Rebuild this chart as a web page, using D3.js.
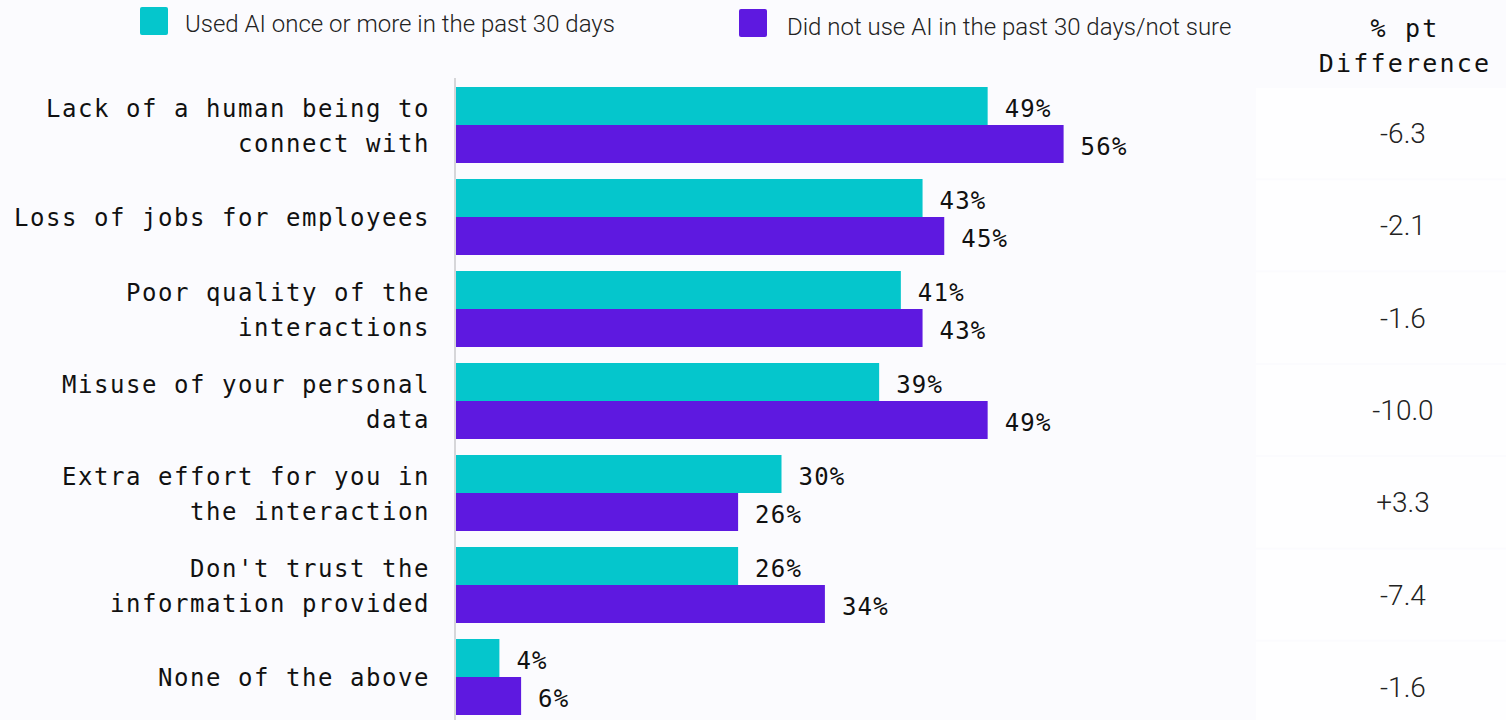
<!DOCTYPE html>
<html>
<head>
<meta charset="utf-8">
<script src="https://cdn.jsdelivr.net/npm/d3@7"></script>
<style>
  html, body { margin: 0; padding: 0; background: #fbfbfe; }
  svg { display: block; }
</style>
</head>
<body>
<svg id="chart" width="1506" height="720"></svg>
<script>
// Concerns about AI in customer interactions, by recent AI usage
const categories = [
  ["Lack of a human being to", "connect with"],
  ["Loss of jobs for employees"],
  ["Poor quality of the", "interactions"],
  ["Misuse of your personal", "data"],
  ["Extra effort for you in", "the interaction"],
  ["Don't trust the", "information provided"],
  ["None of the above"]
];
const usedAI = [49, 43, 41, 39, 30, 26, 4];
const notUsedAI = [56, 45, 43, 49, 26, 34, 6];
const ptDifference = ["-6.3", "-2.1", "-1.6", "-10.0", "+3.3", "-7.4", "-1.6"];
const seriesNames = ["Used AI once or more in the past 30 days", "Did not use AI in the past 30 days/not sure"];
const seriesColors = ["#05c6cc", "#5e19e0"];

const svg = d3.select("#chart");
const ids = d3.range(categories.length);
const monoFont = "'DejaVu Sans Mono', 'Liberation Mono', monospace";
const lightFont = "Roboto, 'Open Sans', sans-serif";

const x = d3.scaleLinear().domain([0, 100]).range([456, 1541]);
const y = d3.scaleBand().domain(ids).range([87, 715]).paddingInner(16 / 92).paddingOuter(0);
const ySub = d3.scaleBand().domain([0, 1]).range([0, y.bandwidth()]);
const yCell = d3.scaleBand().domain(ids).range([87, 733]);

// Difference column cells
svg.append("g").selectAll("rect")
  .data(ids).join("rect")
  .attr("x", 1256).attr("width", 250)
  .attr("y", d => yCell(d) + 1).attr("height", yCell.bandwidth() - 2)
  .attr("fill", "#fefeff");

// Baseline axis
svg.append("line")
  .attr("x1", 455).attr("x2", 455).attr("y1", 78).attr("y2", 720)
  .attr("stroke", "#d6d6d9").attr("stroke-width", 2);

// Bars and value labels
const series = [usedAI, notUsedAI];
series.forEach((vals, s) => {
  const g = svg.append("g");
  g.selectAll("rect").data(ids).join("rect")
    .attr("x", x(0))
    .attr("y", d => y(d) + ySub(s))
    .attr("width", d => x(vals[d]) - x(0))
    .attr("height", ySub.bandwidth())
    .attr("fill", seriesColors[s]);
  g.selectAll("text").data(ids).join("text")
    .attr("x", d => x(vals[d]) + 17)
    .attr("y", d => y(d) + ySub(s) + ySub.bandwidth() / 2 + 11)
    .attr("font-family", monoFont)
    .attr("font-size", 24)
    .attr("letter-spacing", 1.2)
    .attr("fill", "#111")
    .text(d => vals[d] + "%");
});

// Category labels
const labels = svg.append("g");
ids.forEach(i => {
  const lines = categories[i];
  const cy = y(i) + y.bandwidth() / 2;
  lines.forEach((line, k) => {
    labels.append("text")
      .attr("x", 430)
      .attr("y", cy + 9 + (k - (lines.length - 1) / 2) * 35)
      .attr("text-anchor", "end")
      .attr("font-family", monoFont)
      .attr("font-size", 24)
      .attr("letter-spacing", 1.55)
      .attr("fill", "#111")
      .text(line);
  });
});

// Difference column
const hdr = svg.append("g")
  .attr("font-family", monoFont).attr("font-size", 25)
  .attr("letter-spacing", 2.2).attr("fill", "#111").attr("text-anchor", "middle");
hdr.append("text").attr("x", 1405).attr("y", 37).text("% pt");
hdr.append("text").attr("x", 1405).attr("y", 72).text("Difference");

svg.append("g").selectAll("text")
  .data(ids).join("text")
  .attr("x", 1403)
  .attr("y", d => yCell(d) + yCell.bandwidth() / 2 + 10)
  .attr("text-anchor", "middle")
  .attr("font-family", lightFont)
  .attr("font-weight", 300)
  .attr("font-size", 28)
  .attr("fill", "#222")
  .text(d => ptDifference[d]);

// Legend
const legendPos = [{sx: 140, sy: 7, tx: 185, ty: 32}, {sx: 739, sy: 9, tx: 787, ty: 35}];
seriesNames.forEach((name, s) => {
  const p = legendPos[s];
  svg.append("rect")
    .attr("x", p.sx).attr("y", p.sy).attr("width", 28).attr("height", 28)
    .attr("rx", 2).attr("fill", seriesColors[s]);
  svg.append("text")
    .attr("x", p.tx).attr("y", p.ty)
    .attr("font-family", lightFont).attr("font-weight", 300)
    .attr("font-size", 24).attr("fill", "#222")
    .text(name);
});
</script>
</body>
</html>
